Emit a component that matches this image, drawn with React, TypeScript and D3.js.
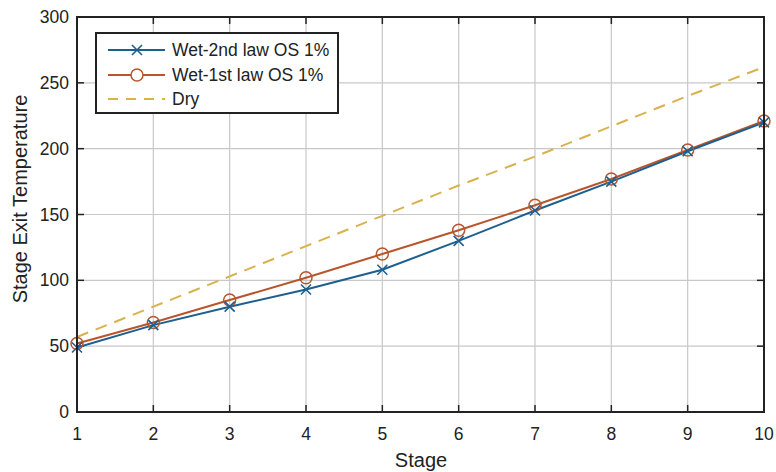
import React from "react";
import * as d3 from "d3";

const stages = [1, 2, 3, 4, 5, 6, 7, 8, 9, 10];
const wet2nd = [49, 66, 80, 93, 108, 130, 153, 175, 198, 220];
const wet1st = [52, 68, 85, 102, 120, 138, 157, 177, 199, 221];
const dry = [57, 80, 103, 126, 149, 172, 194, 217, 240, 262];
const yTicks = [0, 50, 100, 150, 200, 250, 300];

const W = 776;
const H = 472;
const margin = { top: 17, right: 12, bottom: 60, left: 77 };
const font = "'Liberation Sans', Arial, sans-serif";

const BLUE = "#1d5f8e";
const ORANGE = "#b8552c";
const GOLD = "#d8b24c";

export default function App() {
  const x = d3.scaleLinear().domain([1, 10]).range([margin.left, W - margin.right]);
  const y = d3.scaleLinear().domain([0, 300]).range([H - margin.bottom, margin.top]);
  const line = d3
    .line<number>()
    .x((_, i) => x(stages[i]))
    .y(d => y(d));

  const x0 = x(1), x1 = x(10), y0 = y(0), y1 = y(300);

  return (
    <svg
      width={W}
      height={H}
      style={{ position: "absolute", left: 0, top: 0, background: "#fff" }}
      fontFamily={font}
    >
      {/* grid */}
      {stages.map(s => (
        <line key={"gx" + s} x1={x(s)} x2={x(s)} y1={y0} y2={y1} stroke="#c8c8c8" strokeWidth={1.2} />
      ))}
      {yTicks.map(t => (
        <line key={"gy" + t} x1={x0} x2={x1} y1={y(t)} y2={y(t)} stroke="#c8c8c8" strokeWidth={1.2} />
      ))}

      {/* ticks inward on all sides */}
      {stages.map(s => (
        <g key={"tx" + s}>
          <line x1={x(s)} x2={x(s)} y1={y0} y2={y0 - 7} stroke="#222" strokeWidth={1.5} />
          <line x1={x(s)} x2={x(s)} y1={y1} y2={y1 + 7} stroke="#222" strokeWidth={1.5} />
          <text x={x(s)} y={y0 + 28} textAnchor="middle" fontSize={17.5} fill="#222">
            {s}
          </text>
        </g>
      ))}
      {yTicks.map(t => (
        <g key={"ty" + t}>
          <line x1={x0} x2={x0 + 7} y1={y(t)} y2={y(t)} stroke="#222" strokeWidth={1.5} />
          <line x1={x1} x2={x1 - 7} y1={y(t)} y2={y(t)} stroke="#222" strokeWidth={1.5} />
          <text x={x0 - 8} y={y(t) + 6} textAnchor="end" fontSize={17.5} fill="#222">
            {t}
          </text>
        </g>
      ))}

      {/* series */}
      <path d={line(dry) || ""} fill="none" stroke={GOLD} strokeWidth={2} strokeDasharray="12,8" />
      <path d={line(wet1st) || ""} fill="none" stroke={ORANGE} strokeWidth={2} />
      <path d={line(wet2nd) || ""} fill="none" stroke={BLUE} strokeWidth={2} />
      {wet1st.map((v, i) => (
        <circle key={"c" + i} cx={x(stages[i])} cy={y(v)} r={6} fill="none" stroke={ORANGE} strokeWidth={1.5} />
      ))}
      {wet2nd.map((v, i) => {
        const cx = x(stages[i]), cy = y(v), s = 5;
        return (
          <path
            key={"x" + i}
            d={`M${cx - s},${cy - s}L${cx + s},${cy + s}M${cx - s},${cy + s}L${cx + s},${cy - s}`}
            stroke={BLUE}
            strokeWidth={1.6}
          />
        );
      })}

      {/* axes box */}
      <rect x={x0} y={y1} width={x1 - x0} height={y0 - y1} fill="none" stroke="#222" strokeWidth={2} />

      {/* labels */}
      <text x={421} y={467} textAnchor="middle" fontSize={20} fill="#222">
        Stage
      </text>
      <text
        transform={`translate(27,199) rotate(-90)`}
        textAnchor="middle"
        fontSize={20}
        fill="#222"
      >
        Stage Exit Temperature
      </text>

      {/* legend */}
      <g>
        <rect x={96} y={33} width={242} height={80} fill="#fff" stroke="#222" strokeWidth={2} />
        <line x1={108} x2={165} y1={50} y2={50} stroke={BLUE} strokeWidth={2} />
        <path d="M132,45L142,55M132,55L142,45" stroke={BLUE} strokeWidth={1.6} />
        <text x={172} y={56} fontSize={17.5} fill="#222">Wet-2nd law OS 1%</text>
        <line x1={108} x2={165} y1={75} y2={75} stroke={ORANGE} strokeWidth={2} />
        <circle cx={137} cy={75} r={6} fill="#fff" stroke={ORANGE} strokeWidth={1.5} />
        <text x={172} y={81} fontSize={17.5} fill="#222">Wet-1st law OS 1%</text>
        <line x1={108} x2={165} y1={99} y2={99} stroke={GOLD} strokeWidth={2} strokeDasharray="10,8" />
        <text x={172} y={105} fontSize={17.5} fill="#222">Dry</text>
      </g>
    </svg>
  );
}
